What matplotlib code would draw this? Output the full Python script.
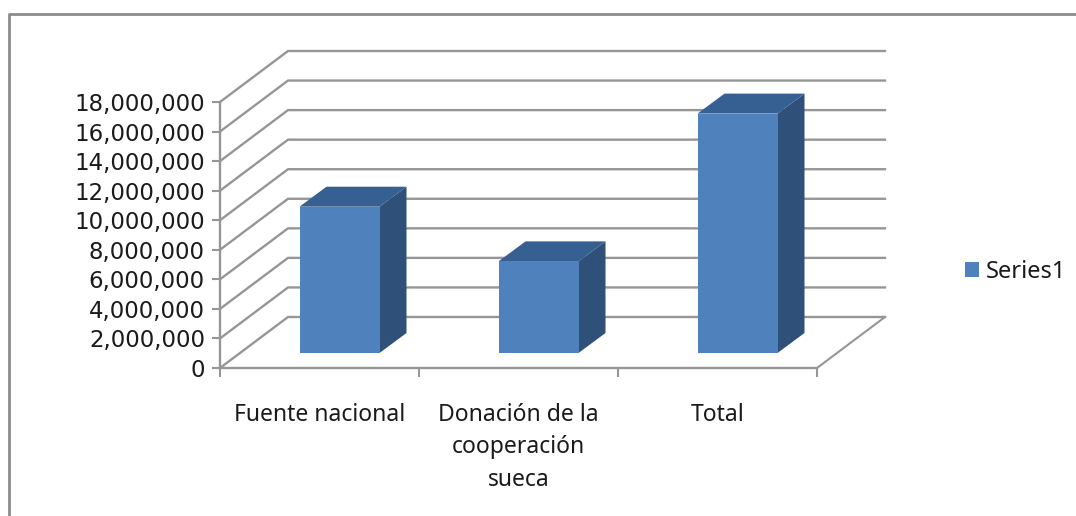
import matplotlib
matplotlib.use('Agg')
import matplotlib.pyplot as plt
from matplotlib.lines import Line2D
from matplotlib.ticker import FuncFormatter

categories = ['Fuente nacional', 'Donación de la\ncooperación\nsueca', 'Total']
values = [9900000, 6200000, 16200000]
series_name = 'Series1'
y_ticks = [0, 2000000, 4000000, 6000000, 8000000, 10000000, 12000000, 14000000, 16000000, 18000000]

W, H = 1076, 516
FRONT, SIDE, TOP = '#4f81bd', '#2f5079', '#376092'
GRAY = '#969696'

plt.rcParams['font.family'] = ['Noto Sans', 'DejaVu Sans']

fig = plt.figure(figsize=(W / 100, H / 100), dpi=100)
ax = fig.add_axes([220 / W, (H - 368) / H, 597 / W, 266 / H])
ax.set_xlim(0, 3)
ax.set_ylim(0, 18000000)

# pixels -> data, the depth of the 3d look is given in pixels
px_x = 3 / 597
px_y = 18000000 / 266


def depth(dx, dy):
    return dx * px_x, dy * px_y


# back wall and floor
wx, wy = depth(68, 51)
for v in y_ticks:
    ax.plot([0, wx, 3 + wx], [v, v + wy, v + wy], color=GRAY, lw=1.7, clip_on=False, zorder=1)
ax.plot([3, 3 + wx], [0, wy], color=GRAY, lw=1.5, clip_on=False, zorder=1)

# bars
bar_w = 80 * px_x
fx, fy = depth(20, 15)
bx, by = depth(27, 20)
xpos = [i + 0.5 + fx for i in range(len(values))]
for x, v in zip(xpos, values):
    left, right = x - bar_w / 2, x + bar_w / 2
    top = fy + v
    ax.fill([right, right + bx, right + bx, right], [fy, fy + by, top + by, top],
            color=SIDE, lw=0, clip_on=False, zorder=3)
    ax.fill([left, right, right + bx, left + bx], [top, top, top + by, top + by],
            color=TOP, lw=0, clip_on=False, zorder=3)
bars = ax.bar(xpos, values, bar_w, bottom=fy, color=FRONT, label=series_name, clip_on=False, zorder=4)

# axes
for s in ['top', 'right']:
    ax.spines[s].set_visible(False)
for s in ['left', 'bottom']:
    ax.spines[s].set_color(GRAY)
    ax.spines[s].set_linewidth(1.7)
ax.set_yticks(y_ticks)
ax.yaxis.set_major_formatter(FuncFormatter(lambda v, pos: f'{int(v):,}'))
ax.set_xticks([0, 1, 2, 3])
ax.set_xticklabels([])
ax.set_xticks([0.5, 1.5, 2.5], minor=True)
ax.set_xticklabels(categories, minor=True, linespacing=1.47, ha='center', va='top')
ax.tick_params(axis='y', length=5.8, width=1.5, color=GRAY, pad=5, labelsize=16.5, labelcolor='#1a1a1a')
ax.tick_params(axis='x', which='major', length=6.5, width=1.5, color=GRAY)
ax.tick_params(axis='x', which='minor', length=0, pad=25, labelsize=16.5, labelcolor='#1a1a1a')
# the digits are wider in the reference than noto sans
for lab in ax.get_yticklabels():
    lab.set_family(['DejaVu Sans'])
    lab.set_y(lab.get_position()[1])

ax.legend(handles=[bars], loc='center left', bbox_to_anchor=(965 / W, (H - 272) / H),
          bbox_transform=fig.transFigure, frameon=False, fontsize=17, labelcolor='#1a1a1a',
          handlelength=0.6, handleheight=0.6, handletextpad=0.27, borderpad=0, borderaxespad=0)

# outer frame, runs off the picture on the right and at the bottom
fig.add_artist(Line2D([9 / W, 9 / W, 1], [0, (H - 14) / H, (H - 14) / H], color='#8c8c8c', lw=2))

fig.savefig('out.png', dpi=100, facecolor='white')
